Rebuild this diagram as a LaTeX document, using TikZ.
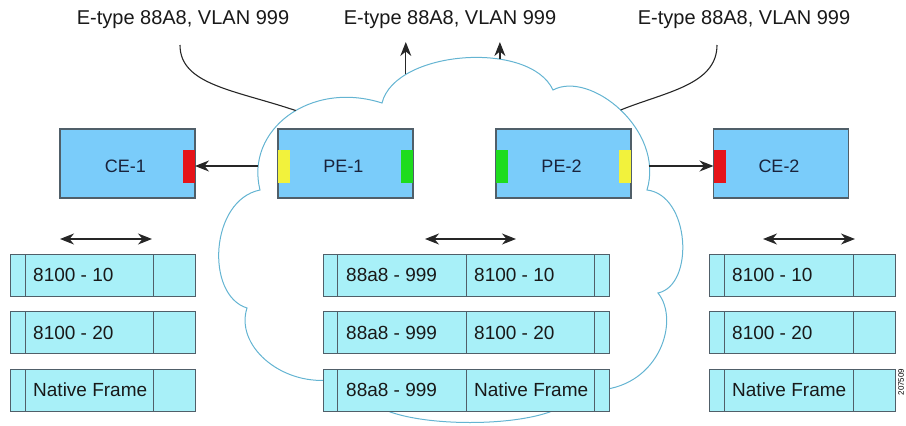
\documentclass[tikz,border=0pt]{standalone}
\usepackage{fontspec}
\setmainfont{Liberation Sans}
\usetikzlibrary{arrows.meta}
\definecolor{boxblue}{RGB}{122,204,250}
\definecolor{framecyan}{RGB}{168,240,248}
\definecolor{edgegray}{RGB}{80,95,105}
\definecolor{cloudline}{RGB}{100,180,210}
\definecolor{portred}{RGB}{230,20,25}
\definecolor{portyellow}{RGB}{242,242,60}
\definecolor{portgreen}{RGB}{30,220,30}
\definecolor{navytext}{RGB}{25,35,60}
\begin{document}
\begin{tikzpicture}[x=1pt,y=-1pt,
  devbox/.style={draw=edgegray, line width=1.1pt, fill=boxblue, minimum width=135pt, minimum height=69pt, inner sep=0pt, outer sep=0pt},
  devport/.style={fill=#1, draw=none, minimum width=12pt, minimum height=33pt, inner sep=0pt, outer sep=0pt},
  devtext/.style={font=\fontsize{18}{20}\selectfont, text=navytext, inner sep=0pt},
  cell/.style={draw=edgegray, line width=0.9pt, fill=framecyan, minimum height=42pt, inner sep=0pt, outer sep=0pt, anchor=west},
  ftext/.style={font=\fontsize{19}{22}\selectfont, text=black!90, inner sep=0pt, anchor=west},
  toptext/.style={font=\fontsize{20}{24}\selectfont, text=black!90, inner sep=0pt},
  arr/.style={-{Stealth[length=14pt,width=11pt,inset=4.5pt]}, line width=1.2pt, draw=black!85},
  darr/.style={{Stealth[length=14pt,width=11pt,inset=4.5pt]}-{Stealth[length=14pt,width=11pt,inset=4.5pt]}, line width=1.2pt, draw=black!85},
  lead/.style={line width=1.1pt, draw=black!85},
  cloudstyle/.style={draw=cloudline, line width=1pt}
]
\useasboundingbox (0,0) rectangle (906,426);

% cloud
\draw[cloudstyle] (260,190)
  .. controls (245,130) and (310,80) .. (382,103) coordinate[pos=0.15] (cA) coordinate[pos=0.55] (cL)
  .. controls (395,50) and (530,40) .. (553,90) coordinate[pos=0.22] (u1) coordinate[pos=0.66] (u2)
  .. controls (590,70) and (665,130) .. (647,190) coordinate[pos=0.5] (cR) coordinate[pos=0.85] (cC)
  .. controls (690,195) and (695,285) .. (658,293)
  .. controls (680,320) and (660,385) .. (600,390)
  -- (570,400)
  .. controls (545,430) and (395,430) .. (370,400)
  -- (330,380)
  .. controls (280,385) and (235,345) .. (247,308)
  .. controls (205,295) and (210,200) .. (260,190) -- cycle;

% top labels
\node[toptext] (lab1) at (183,20) {E-type 88A8, VLAN 999};
\node[toptext] (lab2) at (450,20) {E-type 88A8, VLAN 999};
\node[toptext] (lab3) at (744,20) {E-type 88A8, VLAN 999};

\coordinate (lcTop) at (180,45);
\coordinate (rcTop) at (717,45);
\coordinate (uptop) at (0,42);
\draw[lead] (lcTop) .. controls (180,85) and (235,90) .. (cL);
\draw[lead] (rcTop) .. controls (717,85) and (665,92) .. (cR);
\draw[arr] (u1) -- (u1 |- uptop);
\draw[arr] (u2) -- (u2 |- uptop);

% devices
\coordinate (py) at (0,166);
\node[devbox] (ce1) at (127.5,163.5) {};
\node[devbox] (pe1) at (345.5,163.5) {};
\node[devbox] (pe2) at (563.5,163.5) {};
\node[devbox] (ce2) at (781,163.5) {};
\node[devport=portred, anchor=east] (ce1p) at (ce1.east |- py) {};
\node[devport=portyellow, anchor=west] (pe1y) at (pe1.west |- py) {};
\node[devport=portgreen, anchor=east] (pe1g) at (pe1.east |- py) {};
\node[devport=portgreen, anchor=west] (pe2g) at (pe2.west |- py) {};
\node[devport=portyellow, anchor=east] (pe2y) at (pe2.east |- py) {};
\node[devport=portred, anchor=west] (ce2p) at (ce2.west |- py) {};
\node[devtext] (ce1t) at ([shift={(-2,2.5)}]ce1.center) {CE-1};
\node[devtext] (pe1t) at ([shift={(-2,2.5)}]pe1.center) {PE-1};
\node[devtext] (pe2t) at ([shift={(-2,2.5)}]pe2.center) {PE-2};
\node[devtext] (ce2t) at ([shift={(-2,2.5)}]ce2.center) {CE-2};

\draw[arr] (ce1p.east -| cA) -- (ce1p.east);
\draw[arr] (ce2p.west -| cC) -- (ce2p.west);

% double arrows
\coordinate (dl1) at (60,239);  \coordinate (dl2) at (152,239);
\coordinate (dm1) at (425,239); \coordinate (dm2) at (516,239);
\coordinate (dr1) at (763,239); \coordinate (dr2) at (855,239);
\draw[darr] (dl1) -- (dl2);
\draw[darr] (dm1) -- (dm2);
\draw[darr] (dr1) -- (dr2);

% frames
\foreach \yc/\r/\t in {275/1/{8100 - 10}, 332.5/2/{8100 - 20}, 390/3/{Native Frame}} {
  \node[cell, minimum width=15pt]  (La\r) at (10,\yc) {};
  \node[cell, minimum width=128pt] (Lb\r) at (25,\yc) {};
  \node[cell, minimum width=42pt]  (Lc\r) at (153,\yc) {};
  \node[ftext] (Lt\r) at ([xshift=8pt]Lb\r.west) {\t};
  \node[cell, minimum width=14pt]  (Ma\r) at (323,\yc) {};
  \node[cell, minimum width=129pt] (Mb\r) at (337,\yc) {};
  \node[cell, minimum width=128pt] (Mc\r) at (466,\yc) {};
  \node[cell, minimum width=15pt]  (Md\r) at (594,\yc) {};
  \node[ftext] (Mt\r) at ([xshift=9pt]Mb\r.west) {88a8 - 999};
  \node[ftext] (Mu\r) at ([xshift=8pt]Mc\r.west) {\t};
  \node[cell, minimum width=15pt]  (Ra\r) at (709,\yc) {};
  \node[cell, minimum width=129pt] (Rb\r) at (724,\yc) {};
  \node[cell, minimum width=42pt]  (Rc\r) at (853,\yc) {};
  \node[ftext] (Rt\r) at ([xshift=8pt]Rb\r.west) {\t};
}

\node[font=\fontsize{8}{9}\selectfont, rotate=90, inner sep=0pt] (figid) at (901,382) {207509};
\end{tikzpicture}
\end{document}
